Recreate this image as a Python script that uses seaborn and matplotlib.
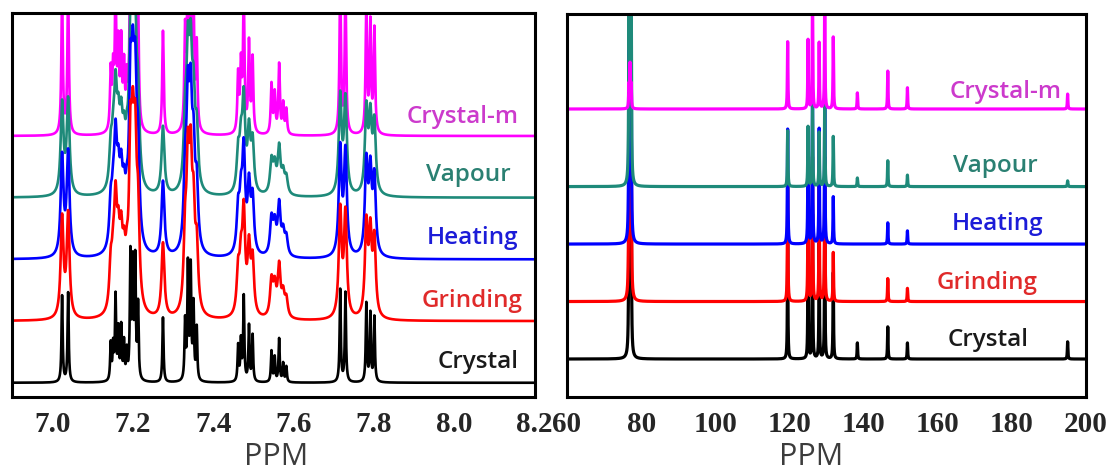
"""
1H and 13C NMR spectra of the crystal and its ground / heated / fumed / remelted forms.

Left: aromatic 1H region (6.9-8.2 ppm), right: 13C (60-200 ppm).
Traces are stacked with a fixed offset and labelled on the right.
"""

import matplotlib.pyplot as plt
import numpy as np
import pandas as pd
import seaborn as sns
from matplotlib.ticker import MultipleLocator

OUT_PATH = "out.png"

TRACES = ["Crystal", "Grinding", "Heating", "Vapour", "Crystal-m"]
LINE_COLORS = ["#000000", "#ff0000", "#0000ff", "#1e8a7a", "#ff00ff"]
TEXT_COLORS = ["#1a1a1a", "#e02a2a", "#1c1cd8", "#2a8072", "#cc3acc"]

# 1H lines (ppm) and heights of the crystal spectrum (in units of trace offset)
H_SHIFTS = [7.024, 7.039,
            7.145, 7.151, 7.157, 7.164, 7.171, 7.178, 7.185,
            7.194, 7.200, 7.206, 7.213,
            7.275,
            7.330, 7.337, 7.344, 7.351, 7.359,
            7.462, 7.469, 7.476, 7.489, 7.498,
            7.545, 7.553, 7.564, 7.574, 7.582,
            7.716, 7.729,
            7.781, 7.791, 7.801]
H_CRYSTAL = [1.40, 1.45,
             0.60, 0.55, 1.35, 0.80, 0.85, 0.60, 0.45,
             2.00, 1.80, 1.90, 1.20,
             1.05,
             0.95, 1.85, 1.80, 1.20, 0.85,
             0.58, 0.65, 1.37, 0.90, 0.75,
             0.50, 0.40, 0.70, 0.30, 0.25,
             1.50, 1.45,
             1.27, 1.10, 1.05]
H_SCALE = [1.0, 1.15, 1.15, 1.05, 1.6]
H_WIDTH = [0.0017, 0.0042, 0.0042, 0.0042, 0.0022]
H_BASE = [0, 1, 2, 3, 4]

# 13C lines (ppm) and heights for each trace
C_SHIFTS = [76.7, 77.0, 77.3, 119.5, 125.0, 126.2, 128.0, 129.5, 131.8,
            138.3, 146.5, 151.8, 195.0]
C_HEIGHTS = {
    "Crystal":   [3, 6, 3, 2.0, 2.0, 2.5, 2.0, 2.5, 1.5, 0.28, 0.56, 0.28, 0.30],
    "Grinding":  [3, 6, 3, 2.0, 2.0, 2.5, 2.0, 2.5, 0.85, 0.0, 0.40, 0.23, 0.0],
    "Heating":   [3, 6, 3, 2.0, 2.0, 2.5, 2.0, 2.5, 0.82, 0.0, 0.37, 0.23, 0.0],
    "Vapour":    [3, 6, 3, 0.97, 1.04, 1.5, 0.94, 1.5, 0.87, 0.15, 0.45, 0.20, 0.10],
    "Crystal-m": [0.4, 0.75, 0.4, 1.17, 1.2, 2.0, 1.15, 2.0, 1.25, 0.28, 0.66, 0.37, 0.26],
}
C_BASE = [0, 1, 2, 3, 4.35]

# label anchors (right edge x, height above own baseline)
H_LABEL_X = [8.16, 8.17, 8.16, 8.14, 8.16]
C_LABEL_X = [184.5, 187.0, 188.5, 187.0, 193.5]
LABEL_DY = [0.33, 0.33, 0.35, 0.36, 0.30]


def lorentz(x, shifts, heights, hwhm):
    y = np.zeros_like(x)
    for c, h in zip(shifts, heights):
        y += h * hwhm ** 2 / ((x - c) ** 2 + hwhm ** 2)
    return y


def style_axis(ax, xlim, major, minor, fmt, label_x=0.5):
    ax.set_xlim(*xlim)
    ax.xaxis.set_major_locator(MultipleLocator(major))
    ax.xaxis.set_minor_locator(MultipleLocator(minor))
    ax.xaxis.set_major_formatter(fmt)
    ax.set_yticks([])
    ax.set_ylabel("")
    ax.set_xlabel("PPM", fontsize=22, color="#3c3c3c", family="Open Sans", labelpad=3)
    ax.xaxis.label.set_x(label_x)
    for sp in ax.spines.values():
        sp.set_visible(True)
        sp.set_linewidth(2.2)
        sp.set_color("black")
        sp.set_zorder(20)
    ax.tick_params(axis="x", which="major", direction="out", length=6, width=2,
                   labelsize=21, pad=4)
    ax.tick_params(axis="x", which="minor", direction="out", length=4, width=2)
    for lab in ax.get_xticklabels():
        lab.set_family("Liberation Serif")
        lab.set_fontweight("bold")


def main() -> None:
    sns.set_style("white")
    plt.rcParams["font.family"] = ["Open Sans", "DejaVu Sans"]

    fig = plt.figure(figsize=(11.14, 4.72), dpi=100)
    ax_h = fig.add_axes([0.011, 0.159, 0.469, 0.813])
    ax_c = fig.add_axes([0.509, 0.159, 0.466, 0.811])

    # 1H: lower traces drawn over the upper ones
    x_h = np.arange(6.9, 8.2, 0.0002)
    for i, name in enumerate(TRACES):
        y = lorentz(x_h, H_SHIFTS, np.array(H_CRYSTAL) * H_SCALE[i], H_WIDTH[i]) + H_BASE[i]
        df = pd.DataFrame({"ppm": x_h, "intensity": y})
        sns.lineplot(data=df, x="ppm", y="intensity", ax=ax_h, color=LINE_COLORS[i],
                     lw=1.9, estimator=None, sort=False, zorder=10 - i)
        ax_h.text(H_LABEL_X[i], H_BASE[i] + LABEL_DY[i], name, color=TEXT_COLORS[i],
                  fontsize=17.5, fontweight="semibold", ha="right", va="center", zorder=15)
    ax_h.set_ylim(-0.23, 5.99)
    style_axis(ax_h, (6.9, 8.2), 0.2, 0.1, "{x:.1f}", label_x=0.505)

    # 13C: upper traces drawn over the lower ones
    x_c = np.arange(60, 200, 0.01)
    for i, name in enumerate(TRACES):
        y = lorentz(x_c, C_SHIFTS, C_HEIGHTS[name], 0.09) + C_BASE[i]
        df = pd.DataFrame({"ppm": x_c, "intensity": y})
        sns.lineplot(data=df, x="ppm", y="intensity", ax=ax_c, color=LINE_COLORS[i],
                     lw=2.3, estimator=None, sort=False, zorder=2 + i)
        ax_c.text(C_LABEL_X[i], C_BASE[i] + LABEL_DY[i], name, color=TEXT_COLORS[i],
                  fontsize=17.5, fontweight="semibold", ha="right", va="center", zorder=15)
    ax_c.set_ylim(-0.66, 6.0)
    style_axis(ax_c, (60, 200), 20, 10, "{x:.0f}", label_x=0.47)

    fig.savefig(OUT_PATH, dpi=100)
    plt.close(fig)


if __name__ == "__main__":
    main()
